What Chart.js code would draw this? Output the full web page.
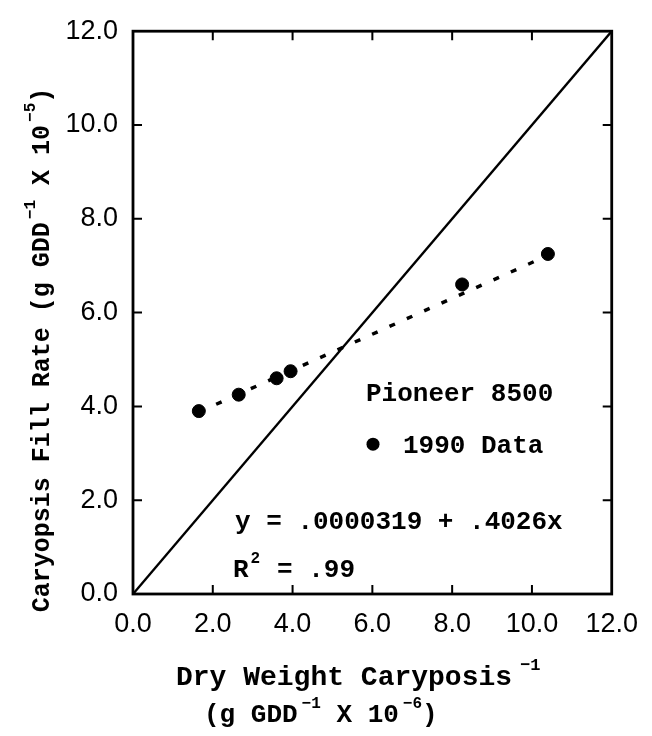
<!DOCTYPE html>
<html><head><meta charset="utf-8">
<script src="https://cdn.jsdelivr.net/npm/chart.js@4/dist/chart.umd.min.js"></script>
<style>html,body{margin:0;padding:0;background:#fff}#wrap{width:652px;height:736px;position:relative}</style>
</head><body><div id="wrap"><canvas id="c"></canvas></div>
<script>
// ---- data ----
const dryWeightX = [1.65, 2.65, 3.6, 3.95, 8.25, 10.4];   // x 10^-6
const fillRateY  = [3.9, 4.25, 4.6, 4.75, 6.6, 7.25];     // x 10^-5
const trendX = [1.65, 10.4];
const trendY = [3.88, 7.22];
const oneToOneX = [0, 12];
const oneToOneY = [0, 12];
const axisMin = 0, axisMax = 12, axisStep = 2;
const legendTitle = 'Pioneer 8500';
const legendLabel = '1990 Data';
const equationText = 'y = .0000319 + .4026x';
const r2Value = '.99';

const MONO = '"Liberation Mono", monospace';
const SANS = '"Liberation Sans", Arial, sans-serif';

function pts(xs, ys){ return xs.map((x,i)=>({x:x, y:ys[i]})); }

// draw text made of normal and superscript parts; returns width
function drawParts(ctx, parts, x, y, size, measureOnly, supGap){
  let cx = x;
  const g = supGap === undefined ? 2 : supGap;
  for (const p of parts){
    const fs = p.sup ? Math.round(size*0.62) : size;
    ctx.font = 'bold ' + fs + 'px ' + MONO;
    const w = ctx.measureText(p.t).width;
    if (!measureOnly) ctx.fillText(p.t, cx + (p.sup ? g : 0), p.sup ? y - size*0.55 : y);
    cx += w + (p.sup ? g : 0);
  }
  return cx - x;
}

const decor = {
  id: 'decor',
  afterDraw(chart){
    const ctx = chart.ctx, a = chart.chartArea;
    const xs = chart.scales.x, ys = chart.scales.y;
    ctx.save();
    // frame
    ctx.strokeStyle = '#000'; ctx.lineWidth = 2.8;
    ctx.strokeRect(a.left, a.top, a.right - a.left, a.bottom - a.top);
    // inward ticks on all four sides
    ctx.lineWidth = 2;
    const tl = 9;
    xs.ticks.forEach(t => {
      if (t.value <= axisMin || t.value >= axisMax) return;
      const px = xs.getPixelForValue(t.value);
      ctx.beginPath();
      ctx.moveTo(px, a.bottom); ctx.lineTo(px, a.bottom - tl);
      ctx.moveTo(px, a.top); ctx.lineTo(px, a.top + tl);
      ctx.stroke();
    });
    ys.ticks.forEach(t => {
      if (t.value <= axisMin || t.value >= axisMax) return;
      const py = ys.getPixelForValue(t.value);
      ctx.beginPath();
      ctx.moveTo(a.left, py); ctx.lineTo(a.left + tl, py);
      ctx.moveTo(a.right, py); ctx.lineTo(a.right - tl, py);
      ctx.stroke();
    });
    ctx.fillStyle = '#000';
    ctx.textBaseline = 'alphabetic';
    ctx.textAlign = 'left';
    const S = 26;
    // legend
    ctx.font = 'bold ' + S + 'px ' + MONO;
    ctx.fillText(legendTitle, a.left + 233, a.top + 370);
    ctx.beginPath();
    ctx.arc(a.left + 240, a.top + 413, 6.5, 0, Math.PI*2);
    ctx.fill();
    ctx.font = 'bold ' + S + 'px ' + MONO;
    ctx.fillText(legendLabel, a.left + 270, a.top + 422);
    // equation
    ctx.fillText(equationText, a.left + 102, a.top + 498);
    drawParts(ctx, [{t:'R'},{t:'2',sup:true}], a.left + 100, a.top + 546, S);
    ctx.font = 'bold ' + S + 'px ' + MONO;
    ctx.fillText('= ' + r2Value, a.left + 144, a.top + 546);
    // x title
    const l1 = [{t:'Dry Weight Caryposis'},{t:'\u22121',sup:true}];
    const l2 = [{t:'(g GDD'},{t:'\u22121',sup:true},{t:' X 10'},{t:'\u22126',sup:true},{t:')'}];
    drawParts(ctx, l1, 176, 685, 28, false, 8);
    drawParts(ctx, l2, 204, 722, S, false, 4);
    // y title
    const yt = [{t:'Caryopsis Fill Rate (g GDD'},{t:'\u22121',sup:true},{t:' X 10'},{t:'\u22125',sup:true},{t:')'}];
    const w = drawParts(ctx, yt, 0, 0, 25, true, 3);
    ctx.translate(49, 350);
    ctx.rotate(-Math.PI/2);
    drawParts(ctx, yt, -w/2, 0, 25, false, 3);
    ctx.restore();
  }
};

const tickFont = {family: SANS, size: 27};
new Chart(document.getElementById('c'), {
  type: 'scatter',
  data: {
    datasets: [
      { label: '1:1', data: pts(oneToOneX, oneToOneY), showLine: true, borderColor: '#000',
        borderWidth: 2.4, pointRadius: 0, fill: false },
      { label: 'Regression', data: pts(trendX, trendY), showLine: true, borderColor: '#000',
        borderWidth: 3.5, borderDash: [6, 13], pointRadius: 0, fill: false },
      { label: legendLabel, data: pts(dryWeightX, fillRateY), backgroundColor: '#000',
        borderColor: '#000', pointRadius: 6.5, pointHoverRadius: 6.5 }
    ]
  },
  options: {
    responsive: true, maintainAspectRatio: false, animation: false,
    layout: { padding: { top: 27, right: 35, left: 0, bottom: 0 } },
    plugins: { legend: { display: false }, tooltip: { enabled: false } },
    scales: {
      x: {
        type: 'linear', min: axisMin, max: axisMax,
        ticks: { stepSize: axisStep, color: '#000', font: tickFont, padding: 14,
                 callback: v => Number(v).toFixed(1), maxRotation: 0 },
        grid: { display: false, drawTicks: false }, border: { display: false },
        afterFit: s => { s.height = 142; }
      },
      y: {
        type: 'linear', min: axisMin, max: axisMax,
        ticks: { stepSize: axisStep, color: '#000', font: tickFont, padding: 15,
                 callback: v => Number(v).toFixed(1) },
        grid: { display: false, drawTicks: false }, border: { display: false },
        afterFit: s => { s.width = 133; }
      }
    }
  },
  plugins: [decor]
});
</script>
</body></html>
